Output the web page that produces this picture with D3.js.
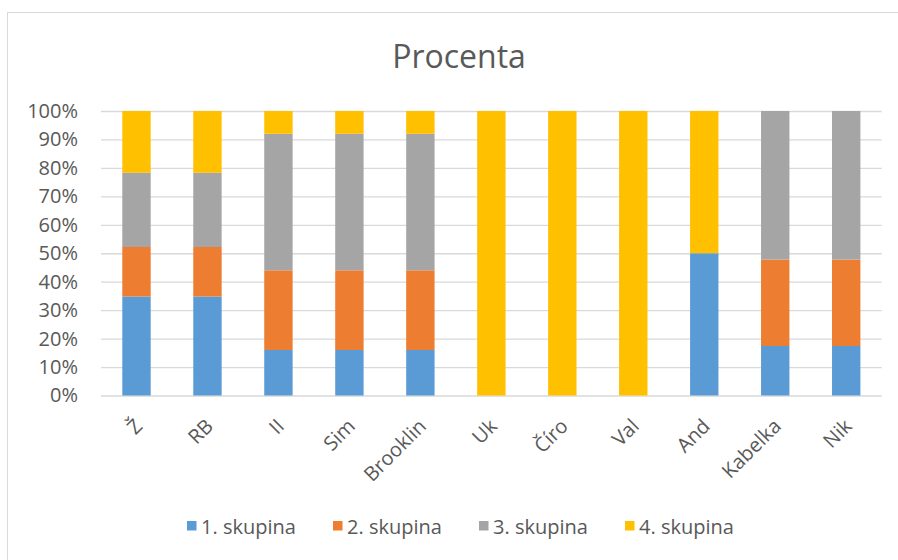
<!DOCTYPE html>
<html>
<head>
<meta charset="utf-8">
<script src="https://cdn.jsdelivr.net/npm/d3@7"></script>
<style>
  html, body { margin: 0; padding: 0; background: #fff; }
  svg { display: block; }
  text { font-family: "Open Sans", "Noto Sans", sans-serif; fill: #595959; }
</style>
</head>
<body>
<svg id="chart" width="898" height="560"></svg>
<script>
const categories = ["Ž", "RB", "II", "Sim", "Brooklin", "Uk", "Číro", "Val", "And", "Kabelka", "Nik"];
const seriesNames = ["1. skupina", "2. skupina", "3. skupina", "4. skupina"];
const skupina1 = [34.8, 34.8, 16, 16, 16, 0, 0, 0, 50, 17.4, 17.4];
const skupina2 = [17.4, 17.4, 28, 28, 28, 0, 0, 0, 0, 30.4, 30.4];
const skupina3 = [26.1, 26.1, 48, 48, 48, 0, 0, 0, 0, 52.2, 52.2];
const skupina4 = [21.7, 21.7, 8, 8, 8, 100, 100, 100, 50, 0, 0];
const colors = ["#5b9bd5", "#ed7d31", "#a5a5a5", "#ffc000"];
const yTicks = [0, 10, 20, 30, 40, 50, 60, 70, 80, 90, 100];
const title = "Procenta";

const seriesValues = [skupina1, skupina2, skupina3, skupina4];
const rows = categories.map((c, i) => {
  const r = { cat: c };
  seriesNames.forEach((s, k) => { r[s] = seriesValues[k][i]; });
  return r;
});

const svg = d3.select("#chart");

// outer chart border
svg.append("rect")
  .attr("x", 7.5).attr("y", 12.5)
  .attr("width", 920).attr("height", 600)
  .attr("fill", "#fff").attr("stroke", "#d9d9d9").attr("stroke-width", 1);

const plot = { left: 101, right: 881.7, top: 111, bottom: 395.5 };

const x = d3.scaleBand()
  .domain(categories)
  .range([plot.left, plot.right])
  .paddingInner(0.6)
  .paddingOuter(0.3);

const y = d3.scaleLinear()
  .domain([0, 100])
  .range([plot.bottom, plot.top]);

// title
svg.append("text")
  .attr("x", 459).attr("y", 68)
  .attr("text-anchor", "middle")
  .style("font-size", "32px")
  .text(title);

// gridlines
const grid = d3.axisLeft(y)
  .tickValues(yTicks)
  .tickSize(-(plot.right - plot.left))
  .tickFormat("");
const gG = svg.append("g")
  .attr("transform", `translate(${plot.left},0)`)
  .call(grid);
gG.select(".domain").remove();
gG.selectAll("line").attr("stroke", "#d9d9d9").attr("stroke-width", 1.3);

// y labels
const yAxis = d3.axisLeft(y)
  .tickValues(yTicks)
  .tickSize(0)
  .tickPadding(0)
  .tickFormat(d => d + "%");
const yG = svg.append("g")
  .attr("transform", `translate(78,0)`)
  .call(yAxis);
yG.select(".domain").remove();
yG.selectAll("text")
  .style("font-size", "20px")
  .style("font-family", "'Open Sans', sans-serif")
  .attr("fill", "#595959");

// bars
const stack = d3.stack().keys(seriesNames);
const stacked = stack(rows);
svg.append("g")
  .selectAll("g")
  .data(stacked)
  .join("g")
  .attr("fill", (d, i) => colors[i])
  .selectAll("rect")
  .data(d => d)
  .join("rect")
  .attr("x", d => x(d.data.cat))
  .attr("width", x.bandwidth())
  .attr("y", d => y(d[1]))
  .attr("height", d => Math.max(0, y(d[0]) - y(d[1])));

// x labels
const xAxis = d3.axisBottom(x).tickSize(0).tickPadding(0);
const xG = svg.append("g")
  .attr("transform", `translate(0,${plot.bottom})`)
  .call(xAxis);
xG.select(".domain").remove();
xG.selectAll("text")
  .style("font-size", "20px")
  .style("font-family", "'Open Sans', sans-serif")
  .attr("fill", "#595959")
  .attr("text-anchor", "end")
  .attr("dy", null)
  .attr("y", null)
  .attr("transform", "translate(7,32) rotate(-45)");

// legend
const legend = svg.append("g");
seriesNames.forEach((s, i) => {
  const lx = 187 + i * 146;
  legend.append("rect")
    .attr("x", lx).attr("y", 521)
    .attr("width", 9.5).attr("height", 9.5)
    .attr("fill", colors[i]);
  legend.append("text")
    .attr("x", lx + 14).attr("y", 533.5)
    .style("font-size", "20px")
    .text(s);
});
</script>
</body>
</html>
